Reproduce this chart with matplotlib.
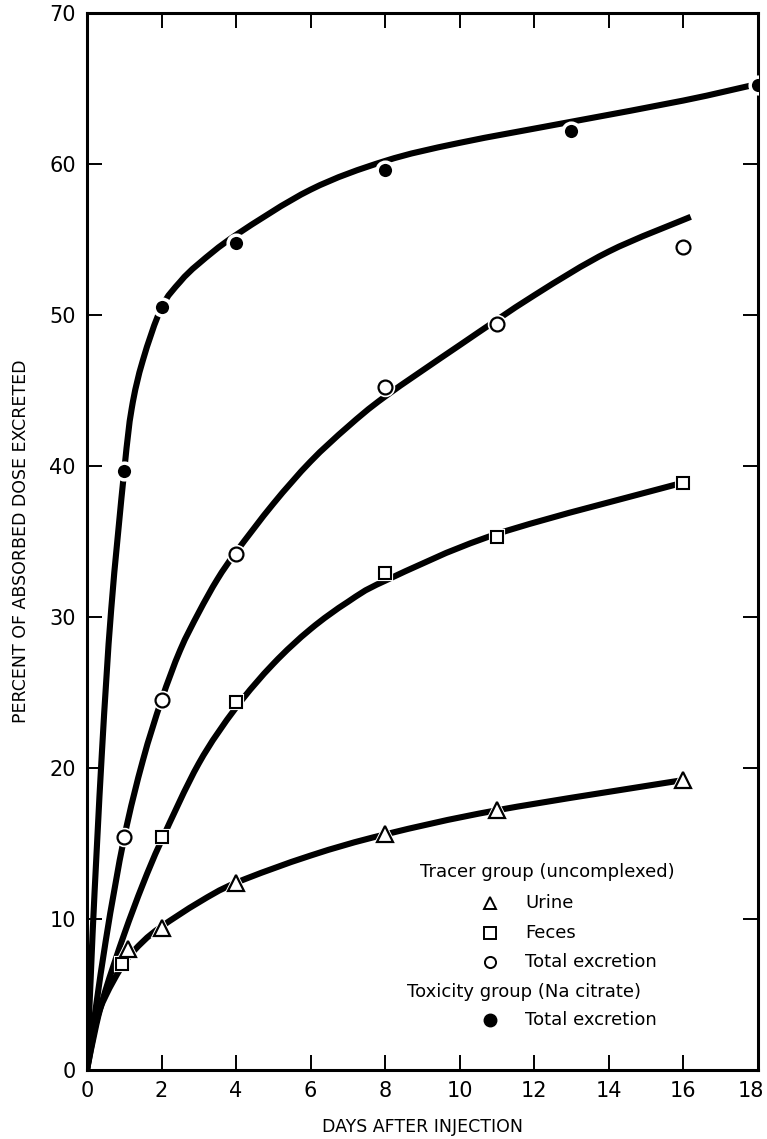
import matplotlib.pyplot as plt
import matplotlib.transforms as mtransforms
from matplotlib.lines import Line2D
from matplotlib.path import Path
from matplotlib.patches import PathPatch

plt.rcParams['font.family'] = ['DejaVu Sans']

# measured points
urine_days = [1.1, 2, 4, 8, 11, 16]
urine_pct = [8.0, 9.4, 12.4, 15.6, 17.2, 19.2]
feces_days = [0.95, 2, 4, 8, 11, 16]
feces_pct = [7.0, 15.4, 24.4, 32.9, 35.3, 38.9]
total_days = [1, 2, 4, 8, 11, 16]
total_pct = [15.4, 24.5, 34.2, 45.2, 49.4, 54.5]
tox_days = [1, 2, 4, 8, 13, 18]
tox_pct = [39.7, 50.5, 54.8, 59.6, 62.2, 65.2]

# hand-drawn fitted curves (knots along each curve)
urine_curve_x = [0, 0.25, 0.5, 1, 1.5, 2, 3, 4, 6, 8, 11, 16]
urine_curve_y = [0, 3.2, 4.9, 7.1, 8.5, 9.5, 11.1, 12.4, 14.2, 15.6, 17.2, 19.2]
feces_curve_x = [0, 0.25, 0.5, 1, 1.5, 2, 3, 4, 5, 6, 7, 8, 11, 16]
feces_curve_y = [0, 3.0, 5.3, 9.0, 12.3, 15.2, 20.3, 24.0, 26.9, 29.2, 31.0, 32.4, 35.5, 38.9]
total_curve_x = [0, 0.5, 1, 1.5, 2, 2.5, 3, 3.5, 4, 5, 6, 7, 8, 10, 12, 14, 16.2]
total_curve_y = [0, 8.5, 15.4, 20.5, 24.5, 27.8, 30.3, 32.5, 34.3, 37.5, 40.3, 42.6, 44.6, 48.0, 51.3, 54.2, 56.5]
tox_curve_x = [0, 0.15, 0.4, 0.65, 1, 1.2, 1.5, 2, 2.5, 3, 4, 6, 8, 10, 13, 16, 18]
tox_curve_y = [0, 9.0, 21.0, 30.5, 39.7, 43.8, 47.0, 50.5, 52.2, 53.4, 55.3, 58.3, 60.2, 61.4, 62.8, 64.2, 65.3]

x_ticks = [0, 2, 4, 6, 8, 10, 12, 14, 16, 18]
y_ticks = [0, 10, 20, 30, 40, 50, 60, 70]


def smooth_path(xs, ys):
    # Catmull-Rom knots turned into cubic Bezier segments
    pts = list(zip(xs, ys))
    n = len(pts)
    verts = [pts[0]]
    codes = [Path.MOVETO]
    for i in range(n - 1):
        p0 = pts[max(i - 1, 0)]
        p1 = pts[i]
        p2 = pts[i + 1]
        p3 = pts[min(i + 2, n - 1)]
        c1 = (p1[0] + (p2[0] - p0[0]) / 6, p1[1] + (p2[1] - p0[1]) / 6)
        c2 = (p2[0] - (p3[0] - p1[0]) / 6, p2[1] - (p3[1] - p1[1]) / 6)
        verts += [c1, c2, p2]
        codes += [Path.CURVE4] * 3
    return Path(verts, codes)


fig = plt.figure(figsize=(7.67, 11.39), dpi=100)
ax = fig.add_axes([0.1134, 0.0606, 0.8746, 0.928])

for cx, cy in [(urine_curve_x, urine_curve_y), (feces_curve_x, feces_curve_y),
               (total_curve_x, total_curve_y), (tox_curve_x, tox_curve_y)]:
    ax.add_patch(PathPatch(smooth_path(cx, cy), fill=False, edgecolor='black',
                           lw=4.4, joinstyle='round', capstyle='butt', zorder=2))

# markers with a white halo that breaks the line
ax.plot(urine_days, urine_pct, ls='none', marker='^', ms=12, mfc='white', mec='white', mew=3, zorder=3)
ax.plot(urine_days, urine_pct, ls='none', marker='^', ms=11, mfc='white', mec='black', mew=1.6, zorder=4)
ax.plot(feces_days, feces_pct, ls='none', marker='s', ms=9, mfc='white', mec='white', mew=3, zorder=3)
ax.plot(feces_days, feces_pct, ls='none', marker='s', ms=8.5, mfc='white', mec='black', mew=1.5, zorder=4)
ax.plot(total_days, total_pct, ls='none', marker='o', ms=11, mfc='white', mec='white', mew=3, zorder=3)
ax.plot(total_days, total_pct, ls='none', marker='o', ms=10, mfc='white', mec='black', mew=1.6, zorder=4)
ax.plot(tox_days, tox_pct, ls='none', marker='o', ms=12, mfc='black', mec='white', mew=2.5, zorder=4)

ax.set_xlim(0, 18)
ax.set_ylim(0, 70)
ax.set_xticks(x_ticks)
ax.set_yticks(y_ticks)
ax.set_xticklabels([str(t) for t in x_ticks])
ax.set_yticklabels([str(t) for t in y_ticks])
ax.tick_params(direction='in', length=11, width=1.4, labelsize=15, pad=8,
               top=True, right=True)
for s in ax.spines.values():
    s.set_linewidth(2.2)

# keep the last day label inside the figure
last = ax.get_xticklabels()[-1]
last.set_transform(last.get_transform() + mtransforms.ScaledTranslation(-7 / 100, 0, fig.dpi_scale_trans))

ax.set_xlabel('DAYS AFTER INJECTION', fontsize=12.5, labelpad=12)
ax.set_ylabel('PERCENT OF ABSORBED DOSE EXCRETED', fontsize=12.5, labelpad=14)

# legend block
tr = ax.transAxes
fs = 13
ax.text(0.496, 0.187, 'Tracer group (uncomplexed)', transform=tr, fontsize=fs, va='center')
entries = [(0.158, '^', 'white', 'Urine'), (0.130, 's', 'white', 'Feces'),
           (0.102, 'o', 'white', 'Total excretion')]
for yy, m, fc, label in entries:
    ax.add_line(Line2D([0.601], [yy], transform=tr, marker=m, ms=8, mfc=fc, mec='black', mew=1.4, ls='none'))
    ax.text(0.653, yy, label, transform=tr, fontsize=fs, va='center')
ax.text(0.477, 0.074, 'Toxicity group (Na citrate)', transform=tr, fontsize=fs, va='center')
ax.add_line(Line2D([0.601], [0.047], transform=tr, marker='o', ms=9, mfc='black', mec='black', ls='none'))
ax.text(0.653, 0.047, 'Total excretion', transform=tr, fontsize=fs, va='center')

fig.savefig('out.png', dpi=100)
